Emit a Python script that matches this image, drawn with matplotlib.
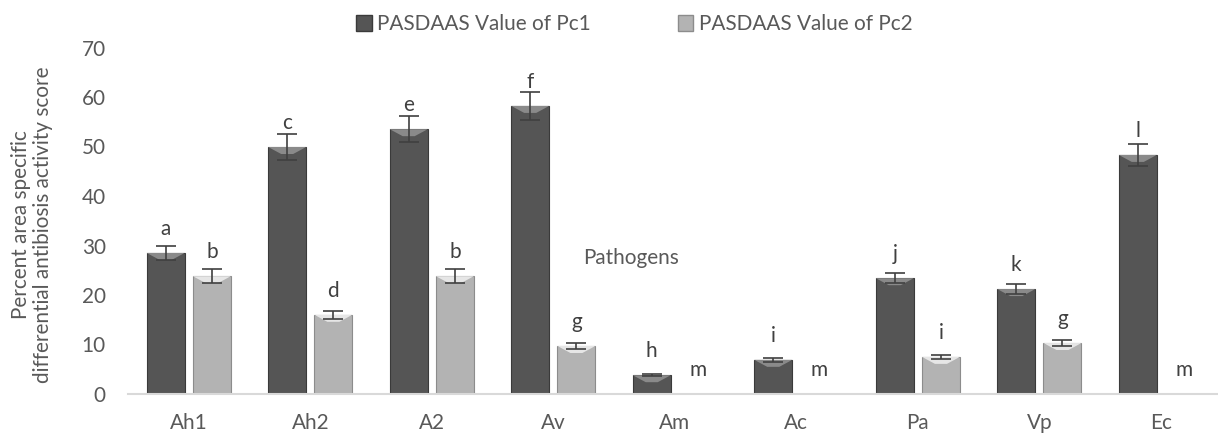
import numpy as np
import matplotlib.pyplot as plt
from matplotlib.patches import Polygon, Patch

plt.rcParams['font.family'] = ['Lato', 'DejaVu Sans']

# data
pathogens = ['Ah1', 'Ah2', 'A2', 'Av', 'Am', 'Ac', 'Pa', 'Vp', 'Ec']
pc1 = [28.5, 49.9, 53.5, 58.2, 3.8, 6.9, 23.4, 21.2, 48.3]
pc1_err = [1.4, 2.6, 2.6, 2.8, 0.2, 0.4, 1.0, 1.0, 2.3]
pc2 = [23.8, 16.0, 23.8, 9.7, 0, 0, 7.5, 10.3, 0]
pc2_err = [1.4, 0.8, 1.4, 0.6, 0, 0, 0.4, 0.6, 0]
pc1_letters = ['a', 'c', 'e', 'f', 'h', 'i', 'j', 'k', 'l']
pc2_letters = ['b', 'd', 'b', 'g', 'm', 'm', 'i', 'g', 'm']

txt = '#595959'
c1, c1_top = '#555555', '#8a8a8a'
c2, c2_top = '#b3b3b3', '#e6e6e6'

fig = plt.figure(figsize=(12.18, 4.37), dpi=100)
ax = fig.add_axes([128/1218, 43/437, 1 - 128/1218, (394 - 47.5)/437])

# pick a font size so Lato takes about the same width as the original Calibri text
fig.canvas.draw()
probe = fig.text(0, 0, 'PASDAAS Value of Pc1', fontsize=10)
pw = probe.get_window_extent(fig.canvas.get_renderer()).width
probe.remove()
fs = 10 * 213 / pw

x = np.arange(len(pathogens))
w = 0.313
off = 0.19
p2 = np.array(pc2)
has2 = p2 > 0

b1 = ax.bar(x - off, pc1, w, color=c1, edgecolor='#3a3a3a', linewidth=0.8, zorder=2)
b2 = ax.bar(x + off, pc2, w, color=c2, edgecolor='#8c8c8c', linewidth=0.8, zorder=2)
ax.errorbar(x - off, pc1, yerr=pc1_err, fmt='none', ecolor='#404040',
            elinewidth=1.2, capsize=7, capthick=1.2, zorder=4)
ax.errorbar(x[has2] + off, p2[has2], yerr=np.array(pc2_err)[has2], fmt='none',
            ecolor='#404040', elinewidth=1.2, capsize=7, capthick=1.2, zorder=4)

ax.set_xlim(-0.5, 8.47)
ax.set_ylim(0, 70)

# bevel on the bar tops
fig.canvas.draw()
inv = ax.transData.inverted()
for bars, top_c in [(b1, c1_top), (b2, c2_top)]:
    for r in bars:
        h = r.get_height()
        if h <= 0:
            continue
        x0 = r.get_x()
        x1 = x0 + r.get_width()
        p0 = ax.transData.transform((x0, h))
        p1 = ax.transData.transform((x1, h))
        d = min(7, (p0[1] - ax.transData.transform((x0, 0))[1]) * 0.6)
        q0 = inv.transform((p0[0] + 13, p0[1] - d))
        q1 = inv.transform((p1[0] - 13, p1[1] - d))
        ax.add_patch(Polygon([(x0, h), (x1, h), (q1[0], q1[1]), (q0[0], q0[1])],
                             closed=True, color=top_c, lw=0, zorder=3))

for i in range(len(pathogens)):
    ax.annotate(pc1_letters[i], (x[i] - off, pc1[i]), xytext=(0, 13),
                textcoords='offset points', ha='center', va='baseline',
                fontsize=fs, color='#404040')
    ax.annotate(pc2_letters[i], (x[i] + off, pc2[i]), xytext=(0, 13),
                textcoords='offset points', ha='center', va='baseline',
                fontsize=fs, color='#404040')

ax.set_xticks(x)
ax.set_xticklabels(pathogens)
ax.set_yticks(np.arange(0, 71, 10))
ax.tick_params(axis='both', length=0, labelsize=fs, colors=txt)
ax.tick_params(axis='x', pad=14)
ax.tick_params(axis='y', pad=16)
for s in ['top', 'right', 'left']:
    ax.spines[s].set_visible(False)
ax.spines['bottom'].set_color('#d9d9d9')
ax.spines['bottom'].set_linewidth(1.5)

fig.text(631/1218, 1 - 264/437, 'Pathogens', ha='center', va='baseline',
         fontsize=fs, color=txt)
fig.text(32/1218, 1 - 225/437,
         'Percent area specific\ndifferential antibiosis activity score',
         rotation=90, ha='center', va='center', fontsize=fs, color=txt,
         multialignment='center', linespacing=1.15)

handles = [Patch(facecolor=c1, edgecolor='#3a3a3a'), Patch(facecolor=c2, edgecolor='#8c8c8c')]
fig.legend(handles, ['PASDAAS Value of Pc1', 'PASDAAS Value of Pc2'],
           loc='center', bbox_to_anchor=(634/1218, 1 - 24/437), ncol=2,
           frameon=False, fontsize=fs, labelcolor=txt, handlelength=0.77,
           handleheight=0.77, handletextpad=0.25, columnspacing=4.2,
           borderpad=0, borderaxespad=0)

fig.savefig('out.png', dpi=100)
